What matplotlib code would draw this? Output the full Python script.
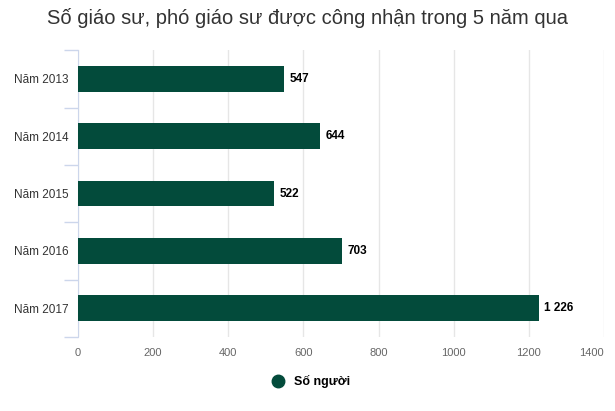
import matplotlib
matplotlib.use("Agg")
import matplotlib.pyplot as plt
from matplotlib.lines import Line2D
import numpy as np

plt.rcParams['font.family'] = ['Liberation Sans', 'DejaVu Sans']

categories = ['Năm 2013', 'Năm 2014', 'Năm 2015', 'Năm 2016', 'Năm 2017']
values = [547, 644, 522, 703, 1226]
value_labels = ['547', '644', '522', '703', '1 226']
x_ticks = [0, 200, 400, 600, 800, 1000, 1200, 1400]

bar_color = '#034b3b'

fig = plt.figure(figsize=(6.15, 4.11), dpi=100)
ax = fig.add_axes([0.1268, 0.180, 0.8553, 0.698])

y = np.arange(len(categories))
ax.barh(y, values, height=0.45, color=bar_color, zorder=3)

for yi, v, lab in zip(y, values, value_labels):
    ax.text(v + 15, yi, lab, va='center', ha='left', fontsize=8.5,
            fontweight='bold', color='#000000')

ax.set_xlim(0, 1400)
ax.set_ylim(len(categories) - 0.5, -0.5)
ax.set_xticks(x_ticks)
ax.set_xticklabels([str(t) for t in x_ticks], fontsize=8, color='#666666')
ax.tick_params(axis='x', length=0, pad=8)
# last label is pulled inside the chart, as in the original
ax.get_xticklabels()[-1].set_horizontalalignment('right')

ax.set_yticks(y)
ax.set_yticklabels(categories, fontsize=8.5, color='#333333')
ax.set_yticks(np.arange(-0.5, len(categories), 1.0), minor=True)
ax.tick_params(axis='y', which='major', length=0, pad=7)
ax.tick_params(axis='y', which='minor', length=10, color='#ccd6eb', width=1)

ax.grid(axis='x', color='#e6e6e6', linewidth=1, zorder=0)
for s in ['top', 'right', 'bottom']:
    ax.spines[s].set_visible(False)
ax.spines['left'].set_color('#ccd6eb')

fig.suptitle('Số giáo sư, phó giáo sư được công nhận trong 5 năm qua',
             x=0.5, y=0.98, fontsize=14.5, color='#333333', va='top')

handle = Line2D([], [], marker='o', linestyle='none', markersize=9,
                markerfacecolor=bar_color, markeredgecolor=bar_color)
fig.legend([handle], ['Số người'], loc='center', bbox_to_anchor=(0.5, 0.071),
           frameon=False, prop={'size': 9, 'weight': 'bold'},
           handletextpad=0.3)

fig.savefig('out.png', dpi=100)
